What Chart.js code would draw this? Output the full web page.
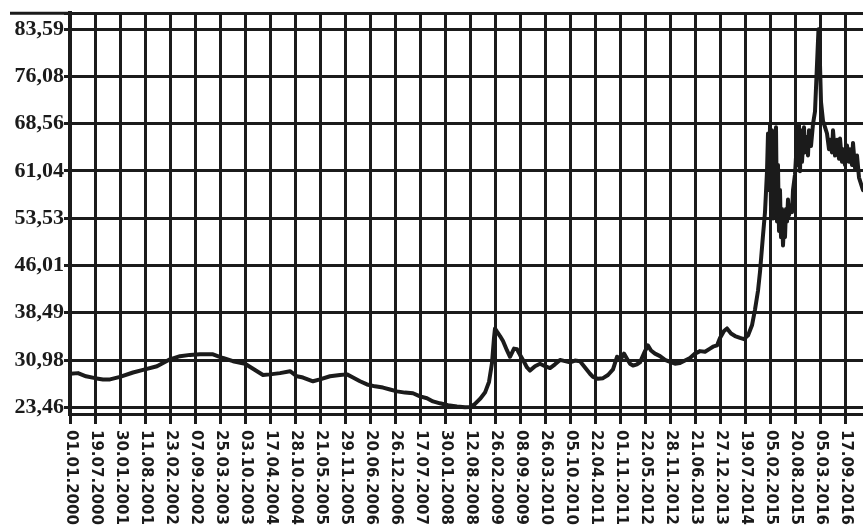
<!DOCTYPE html>
<html>
<head>
<meta charset="utf-8">
<script src="https://cdn.jsdelivr.net/npm/chart.js@4.4.0/dist/chart.umd.min.js"></script>
<style>
  html, body { margin: 0; padding: 0; background: #ffffff; }
  #wrap { width: 863px; height: 532px; position: relative; }
</style>
</head>
<body>
<div id="wrap"><canvas id="c" width="863" height="532"></canvas></div>
<script>
// ---- Data ----
const dateLabels = ['01.01.2000','19.07.2000','30.01.2001','11.08.2001','23.02.2002','07.09.2002',
  '25.03.2003','03.10.2003','17.04.2004','28.10.2004','21.05.2005','29.11.2005','20.06.2006',
  '26.12.2006','17.07.2007','30.01.2008','12.08.2008','26.02.2009','08.09.2009','26.03.2010',
  '05.10.2010','22.04.2011','01.11.2011','22.05.2012','28.11.2012','21.06.2013','27.12.2013',
  '19.07.2014','05.02.2015','20.08.2015','05.03.2016','17.09.2016'];

const yTickValues = [23.46, 30.98, 38.49, 46.01, 53.53, 61.04, 68.56, 76.08, 83.59];
const yTickLabels = ['23,46','30,98','38,49','46,01','53,53','61,04','68,56','76,08','83,59'];

// position along the date axis (1 unit = one label interval)
const period = [
  0, 0.32, 0.64, 1.00, 1.32, 1.60, 2.00, 2.52, 3.00, 3.48, 4.00, 4.40, 4.80, 5.20, 5.72,
  6.12, 6.52, 7.00, 7.32, 7.72, 8.00, 8.40, 8.80, 9.08, 9.32, 9.72, 10.00, 10.40, 10.80,
  11.08, 11.32, 11.60, 11.88, 12.20, 12.52, 12.80, 13.08, 13.40, 13.72, 14.00, 14.28, 14.52,
  14.80, 15.12, 15.48, 15.80, 16.00, 16.20, 16.40, 16.60, 16.76, 16.88, 16.96, 17.00, 17.08,
  17.20, 17.32, 17.48, 17.60, 17.76, 17.88, 18.00, 18.12, 18.28, 18.40, 18.60, 18.80, 19.00,
  19.20, 19.40, 19.60, 19.80, 20.00, 20.20, 20.40, 20.56, 20.68, 20.80, 20.92, 21.12, 21.32,
  21.52, 21.72, 21.88, 22.04, 22.16, 22.28, 22.40, 22.52, 22.68, 22.80, 23.00, 23.12, 23.24,
  23.40, 23.60, 23.80, 24.00, 24.20, 24.40, 24.60, 24.80, 25.00, 25.20, 25.40, 25.60, 25.72,
  25.88, 26.00, 26.16, 26.28, 26.44, 26.60, 26.80, 26.96, 27.12, 27.28, 27.40, 27.52, 27.60,
  27.72, 27.80, 27.88, 27.92, 27.96, 28.00, 28.04, 28.08, 28.12, 28.16, 28.20, 28.24, 28.28,
  28.32, 28.36, 28.40, 28.44, 28.48, 28.52, 28.56, 28.60, 28.64, 28.68, 28.72, 28.76, 28.80,
  28.88, 28.92, 29.00, 29.08, 29.12, 29.16, 29.20, 29.24, 29.28, 29.36, 29.40, 29.44, 29.52,
  29.56, 29.64, 29.72, 29.80, 29.88, 29.94, 30.00, 30.04, 30.12, 30.20, 30.28, 30.36, 30.40,
  30.48, 30.52, 30.60, 30.68, 30.76, 30.80, 30.88, 30.92, 31.00, 31.08, 31.16, 31.20, 31.28,
  31.32, 31.40, 31.48, 31.56, 31.64, 31.72
];

const rate = [
  28.8, 28.9, 28.4, 28.1, 27.9, 27.9, 28.3, 29.0, 29.5, 30.0, 31.1, 31.6, 31.8, 31.9, 31.9,
  31.3, 30.8, 30.4, 29.6, 28.6, 28.7, 28.9, 29.2, 28.4, 28.2, 27.6, 27.9, 28.4, 28.6,
  28.7, 28.2, 27.6, 27.1, 26.8, 26.6, 26.3, 26.0, 25.8, 25.7, 25.2, 24.9, 24.4,
  24.1, 23.8, 23.6, 23.46, 23.5, 24.0, 24.8, 25.8, 27.5, 30.5, 34.5, 36.0, 35.5,
  34.8, 34.0, 32.5, 31.5, 32.8, 32.7, 31.8, 31.0, 29.8, 29.3, 30.0, 30.4, 30.0,
  29.7, 30.3, 31.0, 30.8, 30.6, 30.9, 30.8, 30.0, 29.4, 28.8, 28.3, 28.0, 28.1,
  28.6, 29.5, 31.5, 31.2, 32.0, 31.2, 30.4, 30.1, 30.3, 30.6, 32.4, 33.3, 32.5,
  32.0, 31.6, 31.0, 30.7, 30.4, 30.5, 30.9, 31.3, 32.0, 32.4, 32.3, 32.8, 33.1,
  33.3, 34.5, 35.6, 36.0, 35.2, 34.8, 34.5, 34.3, 34.9, 36.5, 39.0, 42.0, 45.0,
  50.8, 54.5, 61.0, 67.0, 58.0, 68.3, 55.0, 67.5, 53.5, 66.5, 56.0, 68.0, 53.0,
  62.0, 51.5, 58.0, 50.5, 55.0, 49.2, 52.5, 50.5, 55.0, 53.0, 56.5, 54.0, 55.6,
  54.5, 58.0, 60.5, 66.0, 62.0, 68.5, 61.0, 67.5, 62.5, 68.0, 64.0, 66.5, 63.5,
  67.5, 65.0, 68.5, 70.5, 78.0, 83.59, 78.0, 72.0, 69.0, 68.0, 67.0, 64.5, 66.0,
  64.0, 67.5, 63.5, 66.0, 63.0, 66.2, 62.5, 64.5, 62.0, 65.1, 62.5, 64.5, 62.0,
  65.5, 61.5, 63.5, 60.0, 59.0, 58.0
];

const X_MIN = 0, X_MAX = 31.72;
const Y_MIN = 22.4, Y_MAX = 86.13;

// ---- Plugins (labels drawn through the scale) ----
const INK = '#1b1b1b';
const xLabelPlugin = {
  id: 'xDateLabels',
  afterDraw(chart) {
    const xs = chart.scales.x;
    const ctx = chart.ctx;
    ctx.save();
    ctx.font = 'bold 15px "DejaVu Sans"';
    ctx.fillStyle = INK;
    ctx.textAlign = 'left';
    ctx.textBaseline = 'middle';
    dateLabels.forEach((lab, i) => {
      const px = xs.getPixelForValue(i);
      ctx.save();
      ctx.translate(px + 1, xs.top + 16);
      ctx.rotate(Math.PI / 2);
      ctx.fillText(lab, 0, 0);
      ctx.restore();
    });
    ctx.restore();
  }
};
const topRulePlugin = {
  id: 'topRule',
  afterDraw(chart) {
    const ctx = chart.ctx, a = chart.chartArea;
    ctx.save();
    ctx.strokeStyle = INK;
    ctx.lineWidth = 3;
    ctx.beginPath();
    ctx.moveTo(10, a.top);
    ctx.lineTo(a.left, a.top);
    ctx.stroke();
    ctx.restore();
  }
};

new Chart(document.getElementById('c'), {
  type: 'line',
  data: {
    datasets: [{
      data: period.map((p, i) => ({ x: p, y: rate[i] })),
      borderColor: INK,
      borderWidth: 4,
      pointRadius: 0,
      tension: 0,
      borderJoinStyle: 'round',
      borderCapStyle: 'round'
    }]
  },
  options: {
    responsive: false,
    devicePixelRatio: 1,
    animation: false,
    layout: { padding: { top: 12, left: 0, right: 0, bottom: 0 } },
    plugins: { legend: { display: false }, tooltip: { enabled: false } },
    scales: {
      x: {
        type: 'linear',
        min: X_MIN,
        max: X_MAX,
        afterBuildTicks(scale) {
          scale.ticks = dateLabels.map((_, i) => ({ value: i }));
        },
        afterFit(scale) { scale.height = 118; },
        ticks: { display: false },
        grid: { color: INK, lineWidth: 3, tickLength: 10, drawTicks: true },
        border: { display: true, color: INK, width: 3 }
      },
      y: {
        type: 'linear',
        min: Y_MIN,
        max: Y_MAX,
        afterBuildTicks(scale) {
          scale.ticks = yTickValues.map(v => ({ value: v })).concat([{ value: Y_MAX }]);
        },
        afterFit(scale) { scale.width = 70; },
        ticks: {
          padding: 0,
          color: INK,
          font: { family: '"Liberation Serif"', size: 22, weight: 'bold' },
          callback: (v, i) => (i < yTickLabels.length ? yTickLabels[i] : '')
        },
        grid: { color: INK, lineWidth: 3, tickLength: 6, drawTicks: true },
        border: { display: true, color: INK, width: 4 }
      }
    }
  },
  plugins: [xLabelPlugin, topRulePlugin]
});
</script>
</body>
</html>
